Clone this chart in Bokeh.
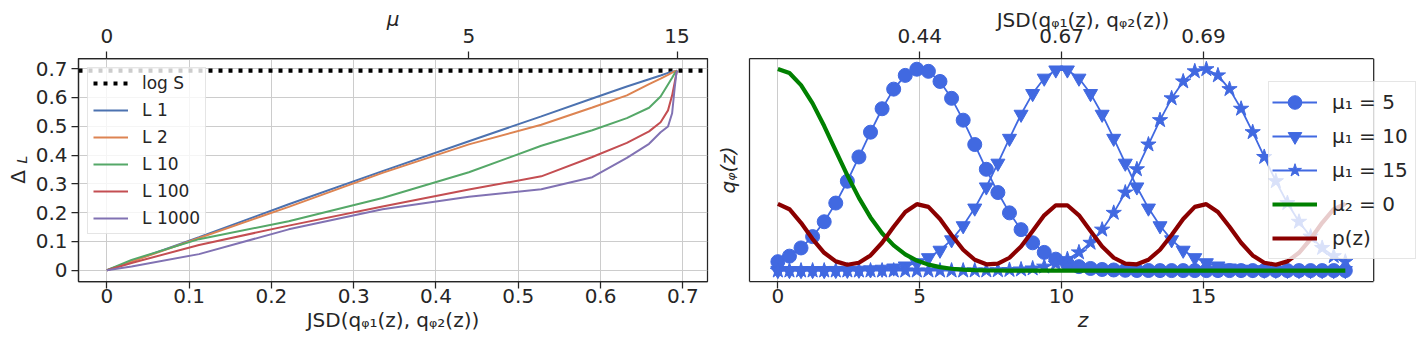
from bokeh.layouts import row
from bokeh.models import FixedTicker, Label, Legend, LegendItem, LinearAxis, Range1d, Span
from bokeh.plotting import figure
from bokeh.embed import file_html
from bokeh.resources import INLINE

FONT = "DejaVu Sans"
INK = "#262626"
GRID = "#cccccc"
H = 346
B_TOP, B_BOTTOM = 58, 65

# ---------------- left panel data ----------------
mu = [0, 1, 2, 3, 4, 5, 6, 7, 8, 9, 10, 11, 12, 13, 14, 15]
jsd = [0.000, 0.030, 0.112, 0.221, 0.335, 0.440, 0.528, 0.590,
       0.632, 0.659, 0.673, 0.682, 0.687, 0.690, 0.692, 0.693]
delta_L1 = [0.000, 0.031, 0.115, 0.229, 0.344, 0.448, 0.534, 0.596,
            0.638, 0.663, 0.676, 0.685, 0.689, 0.691, 0.692, 0.693]
delta_L2 = [0.000, 0.030, 0.112, 0.220, 0.338, 0.437, 0.505, 0.565,
            0.607, 0.646, 0.665, 0.678, 0.686, 0.690, 0.692, 0.693]
delta_L10 = [0.000, 0.036, 0.108, 0.170, 0.251, 0.340, 0.432, 0.486,
             0.528, 0.564, 0.603, 0.645, 0.668, 0.683, 0.690, 0.693]
delta_L100 = [0.000, 0.025, 0.088, 0.155, 0.221, 0.280, 0.326, 0.393,
              0.442, 0.482, 0.514, 0.555, 0.607, 0.650, 0.680, 0.693]
delta_L1000 = [0.000, 0.013, 0.056, 0.142, 0.212, 0.255, 0.281, 0.323,
               0.390, 0.439, 0.479, 0.499, 0.545, 0.630, 0.680, 0.693]
log_S = 0.693
series_names = ["L 1", "L 2", "L 10", "L 100", "L 1000"]
series_colors = ["#4C72B0", "#DD8452", "#55A868", "#C44E52", "#8172B3"]

x_ticks = [0, 0.1, 0.2, 0.3, 0.4, 0.5, 0.6, 0.7]
x_tick_text = ["0", "0.1", "0.2", "0.3", "0.4", "0.5", "0.6", "0.7"]
y_ticks = [0, 0.1, 0.2, 0.3, 0.4, 0.5, 0.6, 0.7]
y_tick_text = ["0", "0.1", "0.2", "0.3", "0.4", "0.5", "0.6", "0.7"]
mu_top = [0, 5, 15]

# ---------------- right panel data ----------------
z = [0.000, 0.408, 0.816, 1.224, 1.633, 2.041, 2.449, 2.857, 3.265, 3.673,
     4.082, 4.490, 4.898, 5.306, 5.714, 6.122, 6.531, 6.939, 7.347, 7.755,
     8.163, 8.571, 8.980, 9.388, 9.796, 10.204, 10.612, 11.020, 11.429, 11.837,
     12.245, 12.653, 13.061, 13.469, 13.878, 14.286, 14.694, 15.102, 15.510, 15.918,
     16.327, 16.735, 17.143, 17.551, 17.959, 18.367, 18.776, 19.184, 19.592, 20.000]
q_mu1_5 = [0.0088, 0.0143, 0.0224, 0.0336, 0.0483, 0.0668, 0.0884, 0.1124, 0.1369, 0.1601,
           0.1795, 0.1931, 0.1992, 0.1971, 0.1871, 0.1704, 0.1488, 0.1247, 0.1002, 0.0772,
           0.0571, 0.0405, 0.0275, 0.0180, 0.0113, 0.0068, 0.0039, 0.0021, 0.0011, 0.0006,
           0.0003, 0.0001, 0.0001, 0.0, 0.0, 0.0, 0.0, 0.0, 0.0, 0.0,
           0.0, 0.0, 0.0, 0.0, 0.0, 0.0, 0.0, 0.0, 0.0, 0.0]
q_mu1_10 = [0.0, 0.0, 0.0, 0.0, 0.0, 0.0001, 0.0002, 0.0003, 0.0007, 0.0013,
            0.0025, 0.0045, 0.0077, 0.0127, 0.0201, 0.0304, 0.0443, 0.0618, 0.0827, 0.1062,
            0.1308, 0.1546, 0.1751, 0.1903, 0.1984, 0.1984, 0.1903, 0.1751, 0.1546, 0.1308,
            0.1062, 0.0827, 0.0618, 0.0443, 0.0304, 0.0201, 0.0127, 0.0077, 0.0045, 0.0025,
            0.0013, 0.0007, 0.0003, 0.0002, 0.0001, 0.0, 0.0, 0.0, 0.0, 0.0]
q_mu1_15 = [0.0, 0.0, 0.0, 0.0, 0.0, 0.0, 0.0, 0.0, 0.0, 0.0,
            0.0, 0.0, 0.0, 0.0, 0.0, 0.0, 0.0, 0.0001, 0.0001, 0.0003,
            0.0006, 0.0011, 0.0021, 0.0039, 0.0068, 0.0113, 0.0180, 0.0275, 0.0405, 0.0571,
            0.0772, 0.1002, 0.1247, 0.1488, 0.1704, 0.1871, 0.1971, 0.1992, 0.1931, 0.1795,
            0.1601, 0.1369, 0.1124, 0.0884, 0.0668, 0.0483, 0.0336, 0.0224, 0.0143, 0.0088]
q_mu2_0 = [0.1995, 0.1954, 0.1835, 0.1654, 0.1430, 0.1185, 0.0942, 0.0719, 0.0526, 0.0369,
           0.0249, 0.0161, 0.0099, 0.0059, 0.0034, 0.0018, 0.0010, 0.0005, 0.0002, 0.0001,
           0.0, 0.0, 0.0, 0.0, 0.0, 0.0, 0.0, 0.0, 0.0, 0.0,
           0.0, 0.0, 0.0, 0.0, 0.0, 0.0, 0.0, 0.0, 0.0, 0.0,
           0.0, 0.0, 0.0, 0.0, 0.0, 0.0, 0.0, 0.0, 0.0, 0.0]
p_z = [0.0660, 0.0607, 0.0473, 0.0312, 0.0176, 0.0091, 0.0058, 0.0078, 0.0150, 0.0275,
       0.0433, 0.0579, 0.0657, 0.0630, 0.0511, 0.0352, 0.0206, 0.0107, 0.0062, 0.0068,
       0.0127, 0.0239, 0.0392, 0.0547, 0.0646, 0.0646, 0.0547, 0.0392, 0.0239, 0.0127,
       0.0068, 0.0062, 0.0107, 0.0206, 0.0352, 0.0511, 0.0630, 0.0657, 0.0579, 0.0433,
       0.0275, 0.0150, 0.0078, 0.0058, 0.0091, 0.0176, 0.0312, 0.0473, 0.0607, 0.0660]
z_ticks = [0, 5, 10, 15]
mu1_top = [5, 10, 15]
q_labels = ["μ₁ = 5", "μ₁ = 10", "μ₁ = 15"]
q_markers = ["circle", "inverted_triangle", "star"]
q_sizes = [14, 14, 16]
BLUE = "#4169E1"


def style_axis(ax, label=None, italic=False, tick_standoff=2, label_standoff=0):
    ax.axis_label = label
    ax.axis_label_text_font = FONT
    ax.axis_label_text_font_size = "20px"
    ax.axis_label_text_font_style = "italic" if italic else "normal"
    ax.axis_label_text_color = INK
    ax.axis_label_standoff = label_standoff
    ax.major_label_text_font = FONT
    ax.major_label_text_font_size = "20px"
    ax.major_label_text_color = INK
    ax.major_label_standoff = tick_standoff
    ax.axis_line_color = INK
    ax.axis_line_width = 1.25
    ax.major_tick_line_color = INK
    ax.major_tick_line_width = 1.25
    ax.major_tick_out = 7
    ax.major_tick_in = 0
    ax.minor_tick_line_color = None


# ================= y-label strip for the left panel (Δ with subscript L) =================
pl = figure(width=30, height=H, x_range=Range1d(0, 1), y_range=Range1d(0, 1),
            output_backend="svg", toolbar_location=None, title=None,
            x_axis_location=None, y_axis_location=None,
            min_border_left=0, min_border_right=0,
            min_border_top=B_TOP, min_border_bottom=B_BOTTOM)
pl.outline_line_color = None
pl.grid.visible = False
frame_bottom = H - B_BOTTOM
pl.add_layout(Label(x=17.3, y=frame_bottom - 176.5, x_units="screen", y_units="screen",
                    text="Δ", angle=90, angle_units="deg", text_align="center",
                    text_baseline="middle", text_font=FONT, text_font_size="20px",
                    text_color=INK))
pl.add_layout(Label(x=21.0, y=frame_bottom - 159.0, x_units="screen", y_units="screen",
                    text="L", angle=90, angle_units="deg", text_align="center",
                    text_baseline="middle", text_font=FONT, text_font_size="14px",
                    text_font_style="italic", text_color=INK))

# ================= left figure =================
X_LO, X_HI = -0.0345, 0.730
p1 = figure(width=682, height=H, x_range=Range1d(X_LO, X_HI), y_range=Range1d(-0.039, 0.735),
            output_backend="svg", toolbar_location=None,
            min_border_left=48, min_border_right=5,
            min_border_top=B_TOP, min_border_bottom=B_BOTTOM)
p1.outline_line_color = INK
p1.outline_line_width = 1.25
p1.grid.grid_line_color = GRID
p1.grid.grid_line_width = 1
p1.xgrid.ticker = FixedTicker(ticks=x_ticks)
p1.ygrid.ticker = FixedTicker(ticks=y_ticks)

bx = p1.xaxis[0]
style_axis(bx, "JSD(qᵩ₁(z), qᵩ₂(z))", tick_standoff=0, label_standoff=2)
bx.ticker = FixedTicker(ticks=x_ticks)
bx.major_label_overrides = dict(zip(x_ticks, x_tick_text))

ly = p1.yaxis[0]
style_axis(ly, None, tick_standoff=4)
ly.ticker = FixedTicker(ticks=y_ticks)
ly.major_label_overrides = dict(zip(y_ticks, y_tick_text))

top_pos = [jsd[mu.index(m)] for m in mu_top]
tx = LinearAxis(ticker=FixedTicker(ticks=top_pos),
                major_label_overrides={p: str(m) for p, m in zip(top_pos, mu_top)})
style_axis(tx, "μ", italic=True, tick_standoff=9, label_standoff=-5)
p1.add_layout(tx, "above")

r_log = p1.line(x=[X_LO, X_HI], y=[log_S, log_S], line_color="black", line_width=4.2,
                line_dash="4 6")
items1 = [LegendItem(label="log S", renderers=[r_log])]
for name, col, ys in zip(series_names, series_colors,
                         [delta_L1, delta_L2, delta_L10, delta_L100, delta_L1000]):
    r = p1.line(jsd, ys, line_color=col, line_width=2)
    items1.append(LegendItem(label=name, renderers=[r]))

leg1 = Legend(items=items1, location="top_left", margin=9, padding=5, spacing=7,
              glyph_width=35, glyph_height=20, label_height=20, label_standoff=14,
              label_text_font=FONT, label_text_font_size="17px", label_text_color=INK,
              border_line_color=GRID, border_line_width=1,
              background_fill_color="white", background_fill_alpha=0.8)
p1.add_layout(leg1)

# ================= right figure =================
# the frame is widened to the right so the legend can overhang the drawn box
Z_LO, Z_HI = -1, 21
BOX_PX, EXTRA_PX = 627, 43
p2 = figure(width=708, height=H,
            x_range=Range1d(Z_LO, Z_HI + (Z_HI - Z_LO) * EXTRA_PX / BOX_PX),
            y_range=Range1d(-0.0108, 0.2098),
            output_backend="svg", toolbar_location=None,
            min_border_left=34, min_border_right=4,
            min_border_top=B_TOP, min_border_bottom=B_BOTTOM)
p2.outline_line_color = None
p2.ygrid.visible = False
p2.xgrid.ticker = FixedTicker(ticks=z_ticks)
p2.xgrid.grid_line_color = GRID
p2.xgrid.grid_line_width = 1

bz = p2.xaxis[0]
style_axis(bz, "z", italic=True, tick_standoff=0, label_standoff=2)
bz.ticker = FixedTicker(ticks=z_ticks)
bz.bounds = (Z_LO, Z_HI)

qy = p2.yaxis[0]
style_axis(qy, "qᵩ(z)", italic=True, tick_standoff=0, label_standoff=10)
qy.ticker = FixedTicker(ticks=[])
qy.major_tick_out = 0

top2 = LinearAxis(ticker=FixedTicker(ticks=mu1_top), bounds=(Z_LO, Z_HI),
                  major_label_overrides={m: f"{jsd[mu.index(m)]:.2f}" for m in mu1_top})
style_axis(top2, "JSD(qᵩ₁(z), qᵩ₂(z))", tick_standoff=9, label_standoff=-6)
p2.add_layout(top2, "above")

items2 = []
for lab, mk, sz, ys in zip(q_labels, q_markers, q_sizes, [q_mu1_5, q_mu1_10, q_mu1_15]):
    rl = p2.line(z, ys, line_color=BLUE, line_width=1.8)
    rm = p2.scatter(z, ys, marker=mk, size=sz, fill_color=BLUE, line_color=BLUE)
    items2.append(LegendItem(label=lab, renderers=[rl, rm]))
rg = p2.line(z, q_mu2_0, line_color="green", line_width=4.2)
rr = p2.line(z, p_z, line_color="darkred", line_width=4.2)
items2.append(LegendItem(label="μ₂ = 0", renderers=[rg]))
items2.append(LegendItem(label="p(z)", renderers=[rr]))

# right spine of the drawn box
p2.add_layout(Span(location=Z_HI, dimension="height", line_color=INK, line_width=1.25))

leg2 = Legend(items=items2, location=(519, 22), padding=3, spacing=0,
              glyph_width=45, glyph_height=34, label_height=34, label_standoff=15,
              label_width=80,
              label_text_font=FONT, label_text_font_size="20px", label_text_color=INK,
              border_line_color=GRID, border_line_width=1,
              background_fill_color="white", background_fill_alpha=0.8)
p2.add_layout(leg2)

layout = row(pl, p1, p2)
open("out.html", "w").write(file_html(layout, INLINE))
